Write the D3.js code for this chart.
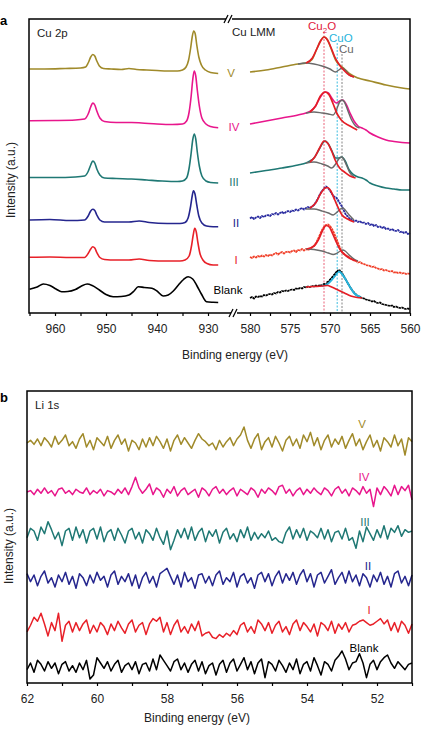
<!DOCTYPE html>
<html><head><meta charset="utf-8">
<script src="https://cdn.jsdelivr.net/npm/d3@7"></script>
<style>body{margin:0;background:#fff}svg{display:block}text{font-family:"Liberation Sans",Arial,sans-serif}</style>
</head><body><svg id="c" width="421" height="742"></svg>
<script>
// ---------- Panel a: Cu 2p (left segment) [E, intensity] ----------
const cu2p_V = [[965,244],[962,244],[958,244.5],[955,245],[954,246],[953.5,250],[953,256],[952.6,258.5],[952.2,257],[951.8,252],[951.3,247],[950.5,244.5],[949,244],[947,243.5],[945.5,244.5],[944,243.5],[942,243],[940,242.5],[938,242],[936,242],[935,243],[934.3,246],[933.8,253],[933.4,265],[933.1,276],[932.8,282],[932.5,279],[932.2,268],[931.8,256],[931.3,248],[930.5,243],[929.5,240.5],[928,239.5]];
const cu2p_IV = [[965,192.3],[960,192.5],[956,193],[954.2,194],[953.5,199],[953,206],[952.6,210],[952.2,208],[951.8,202],[951.2,195],[950.3,191.5],[948,190.5],[945,190.5],[943,190],[940,189],[937,188.5],[935,189],[934.2,192],[933.7,201],[933.3,217],[933,233],[932.7,242],[932.4,237],[932.1,223],[931.7,207],[931.2,195],[930.4,189],[929.5,186.5],[928,185.3]];
const cu2p_III = [[965,135.5],[960,135.5],[956,136],[954.2,137],[953.5,141.5],[953,148],[952.6,152],[952.2,150],[951.8,144],[951.2,138],[950.3,135],[948,134.5],[945,134],[942,133],[939,132],[936,131.5],[935,132],[934.2,135],[933.7,145],[933.3,160],[933,173],[932.7,179],[932.4,174],[932.1,161],[931.7,147],[931.2,137],[930.4,132],[929.5,130.5],[928,130]];
const cu2p_II = [[965,93],[961,93.5],[957,92.5],[954.2,93],[953.5,97],[953,102],[952.6,103.7],[952.2,102.5],[951.8,98],[951.2,93],[950.3,91],[948,91],[945.5,91],[943.5,92],[941.5,90.5],[938,89.5],[935.5,89.5],[934.5,90.5],[933.9,95],[933.4,107],[933.1,117],[932.85,122.3],[932.55,119],[932.2,108],[931.8,97],[931.2,90],[930.3,87],[929,86.3],[928,86.3]];
const cu2p_I = [[965,55.7],[961,56],[957,55.5],[954.2,55.5],[953.5,59.5],[953,64],[952.6,66.3],[952.2,65],[951.8,60.5],[951.2,55.5],[950.3,53.5],[948,53],[945.5,53],[943.5,54],[941.5,52.5],[938,52],[935.5,52],[934.5,53],[933.7,57],[933.2,68],[932.9,78],[932.6,84.7],[932.3,81],[932,71],[931.6,60],[931,53],[930.2,49.5],[929,48],[928,48]];
const cu2p_Blank = [[965,23.7],[963.5,26],[962.3,29],[961,27.5],[959.8,24],[958.7,21.3],[957.5,21.5],[956,23.5],[954.8,27],[953.7,29],[952.7,27.5],[951.3,23],[950,18.5],[948.6,16.3],[947,16.5],[945.5,18],[944.5,22],[943.7,26.3],[942.5,25.5],[941,24.7],[940,22],[938.8,17],[937.8,18],[936.8,22],[935.8,28],[934.8,33.5],[933.9,36.3],[933,34],[932.2,27.5],[931.3,19],[930.3,11.3],[929,10.7],[928,10.5]];

// ---------- Panel a: Cu LMM (right segment) ----------
const lmm_V = [[580,241],[578,243],[576,246],[574,249],[573,250],[572.3,253],[571.7,263],[571.2,272],[570.75,276],[570.3,273],[569.8,263],[569.3,253],[568.8,248],[568.3,245],[567.5,239],[566.5,235],[565,232],[563,228],[561,225],[560,224]];
const lmm_V_red = [[573,250],[572.2,255],[571.6,265],[571.1,273],[570.75,276],[570.4,274],[569.9,266],[569.4,256],[568.9,249],[568.3,243],[567.6,238],[567,236]];
const lmm_V_gray = [[574,249],[573,250],[572,249],[571,247],[570,244],[569.3,241],[568.9,243],[568.5,245],[568.1,243],[567.6,238],[567,236]];
const lmm_IV = [[580,189],[578,192],[576,195],[574,198],[573,200],[572.4,202],[571.8,207],[571.2,216],[570.6,221],[570.2,220],[569.7,214],[569.2,210],[568.8,212],[568.4,213],[568,209],[567.5,200],[567,192],[566.5,187],[566,185],[565.5,183],[565,180],[564,176],[563,173],[562,171.5],[561,170.5],[560,170]];
const lmm_IV_red = [[572.5,201],[571.8,207],[571.2,217],[570.6,221],[570.1,218],[569.6,209],[569.1,199],[568.6,193],[567.5,187],[566.6,183]];
const lmm_IV_gray = [[573,200],[572,201],[571,200],[570.2,199],[569.6,198],[569.2,203],[568.8,211],[568.5,213],[568.2,211],[567.8,203],[567.3,193],[566.8,187],[566.3,185]];
const lmm_III = [[580,140],[578,142.5],[576,145],[574,148],[573,150],[572.5,152],[572,155],[571.4,163],[570.9,170],[570.6,172],[570.2,169],[569.7,161],[569.3,155],[568.9,155],[568.5,156],[568.1,152],[567.6,143],[567,138],[566.5,136],[566,135],[565.5,133],[565,130],[564,127],[563,125],[562,124],[561,123],[560,123]];
const lmm_III_red = [[572.5,151],[571.9,156],[571.3,165],[570.75,172],[570.3,170],[569.8,162],[569.3,152],[568.8,145],[568.2,141],[567.5,137],[566.8,135]];
const lmm_III_gray = [[573,150],[572,151],[571,149],[570.3,147],[569.8,145],[569.3,149],[568.9,154],[568.6,156],[568.3,154],[567.9,147],[567.5,140],[567,136]];
// noisy spectra on a 0.25 eV grid from 580 to 560
const lmm_II = [94.5,96,94,95.5,96.5,95,97,96,97.5,98, 97,99,98.5,100,98.5,100,101,99.5,101,102, 101,102.5,102,103.5,102.5,104,105,103.5,105,106, 105,106.5,108,111,114.5,119,122,124.5,126.5,125, 122.5,119,116.5,115.5,113,109.5,106.5,102,98,96.5, 93.5,94,91.5,92.5,91,92,90,90.5,89,90, 88,89,87,88,86,86.5,85,86,84,84.5, 83,84,82.5,82,83,81,81.5,80,81,79,80];
const lmm_II_red = [[572.5,105],[571.8,110],[571.2,119],[570.6,125],[570.3,125.5],[569.9,122],[569.4,113],[568.9,104],[568.5,98],[567.8,94],[567,91]];
const lmm_II_gray = [[573,104],[572,104],[571,102],[570.2,100],[569.6,98],[569.1,101],[568.7,104],[568.4,105],[568.1,103],[567.6,98],[567,93]];
const lmm_I = [56,55,56.5,55.5,57,56,57.5,56.5,58,57, 58.5,57.5,59,60,58.5,60,61,59.5,61,61.5, 60.5,62,62.5,61,63,62.5,64,62.5,64,63, 64,65.5,67,70,74,78.5,83,86,88,88.5, 87,84,80,75,70,65,61,59,57.5,56.5, 55,54,52.5,52,50.5,51,49.5,49,48,47.5, 47,46,46.5,45,44.5,43.5,44,42.5,43,42, 41.5,42,40.5,41,40,40.5,39.5,40,39,39.5,39];
const lmm_I_red = [[572.9,64],[572,67],[571.4,74],[570.9,83],[570.5,87.5],[570.1,86],[569.6,78],[569.1,69],[568.7,63],[568.1,58],[567.5,54.5],[566.7,52]];
const lmm_I_gray = [[573,64],[572,63.5],[571,62],[570.2,60],[569.6,58.5],[569.1,60],[568.7,62],[568.4,63],[568.1,62],[567.6,58],[567,54],[566.5,52]];
const lmm_Blank = [15,16,14.5,16.5,16,17,16.5,18,17.5,18.5, 19,18.5,20,19.5,21,20.5,22,21.5,22.5,22, 23,23.5,23,24.5,24,25,24.5,26,25.5,26.5, 26,27,26.5,27.5,27,28,27.5,29,28.5,30, 33,35.5,38,40.5,42.5,42,40,36.5,33,29.5, 26,23,20.5,18.5,17,16,15,14.5,13.5,13, 12.5,11.5,12,10.5,10,10.5,9,8.5,8,7.5, 7,7.5,6,6.5,5.5,5,5.5,4.5,4,4.5,3.5];
const lmm_Blank_red = [[573,26],[572,26.5],[571,27],[570.3,27.5],[569.8,26],[569,23],[568.2,20],[567.4,17],[566.6,15.5],[566,15]];
const lmm_Blank_cyan = [[571,27],[570.3,29],[569.8,33],[569.3,38],[568.9,41.5],[568.5,39],[568,33],[567.5,26],[567,20],[566.5,17],[566.2,16]];
const lmm_Blank_fit = [[570.8,28.5],[570.2,32],[569.6,37],[569.1,41.5],[568.8,43],[568.5,41]];
const refLines = [{name:'Cu₂O', e:570.75}, {name:'CuO', e:569.1}, {name:'Cu', e:568.5}];

// ---------- Panel b: Li 1s, 0.1 eV grid from 62 to 51 ----------
const li_V = [0,2,-1,3,-2,4,1,-3,5,-1, 2,6,-2,1,-4,3,7,-3,2,-5, 4,1,-2,5,-4,2,6,-1,3,-6, 2,0,-5,3,-3,4,-2,5,1,-4, 3,-6,2,6,-1,4,0,-4,2,7, 3,1,-2,0,-5,2,-3,1,4,-2, 3,6,12,2,-4,3,7,-5,1,4, -3,5,0,-6,2,5,-2,3,-4,6, 1,8,-2,4,-5,2,6,-3,3,-1, 5,-4,2,7,-2,3,-5,1,6,-3, 2,-6,4,1,-3,6,-2,3,-9,4,1];
const li_IV = [0,1,-2,2,-1,3,-1,1,-3,2, 3,-1,1,-2,2,0,-1,3,-2,1, -1,2,-3,1,0,-2,2,-1,3,-2, 4,11,3,-1,2,6,-2,3,1,-4, 2,-1,4,-3,1,3,-2,0,2,-4, 3,1,-3,2,4,-1,2,-2,1,3, -3,2,0,-2,3,1,-4,2,-1,3, 1,-2,4,5,-1,2,-3,1,3,-2, 2,-1,3,0,-2,3,1,-3,2,4, -1,2,-3,3,1,-2,4,-1,2,-11, 3,-2,4,1,-3,5,-2,4,1,5,-6];
const li_III = [-2,5,3,-4,6,1,10,4,-3,2, -8,3,5,-4,6,-2,4,-6,3,5, -3,6,-5,2,4,-4,5,0,-6,3, 5,-3,2,-6,4,1,-4,5,-2,-7, 3,-11,-4,4,-2,5,-3,6,-4,2, 5,-5,3,-1,4,-6,2,5,-3,1, -5,4,-2,6,-4,2,-3,1,-2,3, -4,-2,-5,-6,2,6,-3,4,-2,5, -4,3,1,-2,5,-3,4,-5,2,3, -3,5,-4,-2,-10,3,-5,6,1,-4, 4,-2,7,-3,5,2,7,-1,4,2,3];
const li_II = [4,-2,3,-5,2,6,-3,1,-6,3, -2,5,-4,2,-7,4,1,-5,3,-3, 5,-1,2,-6,3,6,-4,2,-2,4, -5,3,-7,1,5,-3,2,-6,4,6, 8,2,-4,3,-6,5,-2,1,-7,3, 4,-3,2,-5,3,6,-4,1,-2,5, -6,2,4,-3,1,-7,3,5,-2,4, -5,2,6,-3,4,-1,5,-4,3,7, -2,4,-6,3,5,-3,2,7,-4,1, 5,-3,6,-2,3,-5,4,1,-6,3, -2,5,-4,2,-6,4,6,-3,2,-5,3];
const li_I = [-3,2,8,5,11,3,-6,4,-2,11, -10,2,5,-3,4,-2,3,6,-4,2, -3,4,1,-5,3,-2,5,0,-4,3, 6,-3,2,4,-5,3,7,5,8,-3, 4,-5,2,6,-3,1,-4,3,-2,5, -6,-4,-3,-7,-8,-5,-7,-4,-6,-2, -5,2,4,-3,1,-4,6,3,-2,4, -4,2,5,-3,1,-5,3,6,-2,4, 1,-3,3,-6,4,2,-2,5,-4,3, -1,4,-3,2,3,5,6,4,2,3, 5,7,3,6,-2,4,-3,5,2,-4,3];
const li_Blank = [-2,3,-4,5,2,-3,4,-1,3,-5, 2,4,-3,1,-4,3,-2,5,-9,-6, 7,3,-1,4,-3,2,5,-4,1,3, -2,4,-5,2,3,-3,6,-2,9,5, 1,-3,4,6,-2,3,-4,2,5,-3, 4,-5,1,3,-6,2,5,-4,3,6, -3,2,7,-2,4,-5,3,6,-8,4, 2,-3,5,1,-4,3,-2,6,-5,2, 4,-3,7,1,-6,4,2,-3,5,8, 12,6,-2,3,4,10,3,-8,2,5, -2,4,7,9,3,-1,4,1,-2,2,3];
const liOffsets = [180,143.3,111,78,41.3,12];

const sampleNames = ['V','IV','III','II','I','Blank'];
const sampleColors = ['#a08a2a','#e8168c','#1f7874','#25268e','#e82028','#000000'];
const ticksCuLeft = [965,960,955,950,945,940,935,930];
const ticksCuRight = [580,577.5,575,572.5,570,567.5,565,562.5,560];
const ticksLi = [62,61,60,59,58,57,56,55,54,53,52,51];

// ---------- drawing ----------
const svg = d3.select('#c');
const xL = d3.scaleLinear().domain([965,928]).range([29.5,218.2]);
const xR = d3.scaleLinear().domain([580,560]).range([250,410]);
const yA = d3.scaleLinear().domain([0,294]).range([313,19]);
const xB = d3.scaleLinear().domain([62,51]).range([27,412]);
const yB = d3.scaleLinear().domain([0,219]).range([683,391]);
const red='#e41e26', gray='#6a6a6a', cyan='#27b4dc';

const lineL = d3.line().x(d=>xL(d[0])).y(d=>yA(d[1])).curve(d3.curveMonotoneX);
const lineR = d3.line().x(d=>xR(d[0])).y(d=>yA(d[1])).curve(d3.curveMonotoneX);
const gridR = d3.range(81).map(i=>580-0.25*i);
const gridB = d3.range(111).map(i=>62-0.1*i);
const noisyR = arr => arr.map((v,i)=>[gridR[i],v]);
const lineRn = d3.line().x(d=>xR(d[0])).y(d=>yA(d[1]));
const lineB = d3.line().x(d=>xB(d[0])).y(d=>yB(d[1]));

function path(g, d, gen, color, w, dash){
  const p = g.append('path').attr('d', gen(d)).attr('fill','none').attr('stroke',color)
    .attr('stroke-width',w).attr('stroke-linejoin','round');
  if(dash) p.attr('stroke-dasharray',dash);
  return p;
}

// Panel a
const ga = svg.append('g');
const refColors=[ '#e8506a', cyan, '#777'];
const refTop=[32,43,54];
refLines.forEach((r,i)=>{
  ga.append('line').attr('x1',xR(r.e)).attr('x2',xR(r.e)).attr('y1',refTop[i]).attr('y2',yA(0))
    .attr('stroke',refColors[i]).attr('stroke-width',0.9).attr('stroke-dasharray','2,1.5');
});
const leftSeries=[cu2p_V,cu2p_IV,cu2p_III,cu2p_II,cu2p_I,cu2p_Blank];
leftSeries.forEach((s,i)=>path(ga,s,lineL,sampleColors[i],1.6));
path(ga,lmm_V,lineR,sampleColors[0],1.6);
path(ga,lmm_IV,lineR,sampleColors[1],1.6);
path(ga,lmm_III,lineR,sampleColors[2],1.6);
path(ga,noisyR(lmm_II),lineRn,'#2a2ca0',1.8,'2.5,0.5');
path(ga,noisyR(lmm_I),lineRn,'#f0402a',1.8,'2.5,0.5');
path(ga,noisyR(lmm_Blank),lineRn,'#000',1.8,'2.5,0.5');
[lmm_V_gray,lmm_IV_gray,lmm_III_gray,lmm_II_gray,lmm_I_gray].forEach(s=>path(ga,s,lineR,gray,1.4));
path(ga,lmm_Blank_cyan,lineR,cyan,2);
path(ga,lmm_Blank_fit,lineR,'#000',1.2,'2,1.5');
[lmm_V_red,lmm_IV_red,lmm_III_red,lmm_II_red,lmm_I_red,lmm_Blank_red].forEach(s=>path(ga,s,lineR,red,1.7));

ga.append('rect').attr('x',29).attr('y',19).attr('width',381).attr('height',294)
  .attr('fill','none').attr('stroke','#000').attr('stroke-width',1.5);
const axL = d3.axisBottom(xL).tickValues(ticksCuLeft).tickSize(3).tickPadding(8.5)
  .tickFormat(d=>d%10===0?d:'');
const axR = d3.axisBottom(xR).tickValues(ticksCuRight).tickSize(3).tickPadding(8.5)
  .tickFormat(d=>d%5===0?d:'');
[axL,axR].forEach(ax=>{
  const g=ga.append('g').attr('transform','translate(0,313)').call(ax);
  g.select('.domain').remove();
  g.selectAll('line').attr('stroke','#000').attr('stroke-width',1.2);
  g.selectAll('text').attr('font-size',12).attr('fill','#222').style('font-family','"Liberation Sans",Arial,sans-serif');
});
function brk(x,y){
  ga.append('rect').attr('x',x-3).attr('y',y-1.5).attr('width',6).attr('height',3).attr('fill','#fff');
  ga.append('line').attr('x1',x-5).attr('y1',y+4).attr('x2',x-1).attr('y2',y-4).attr('stroke','#000').attr('stroke-width',1.2);
  ga.append('line').attr('x1',x-1).attr('y1',y+4).attr('x2',x+3).attr('y2',y-4).attr('stroke','#000').attr('stroke-width',1.2);
}
brk(229,19); brk(234,313);

const T=(g,x,y,t,o={})=>g.append('text').attr('x',x).attr('y',y).text(t)
  .attr('font-size',o.size||12).attr('fill',o.color||'#222').attr('text-anchor',o.anchor||'start')
  .attr('font-weight',o.weight||'normal');
T(ga,0,25,'a',{size:13,weight:'bold',color:'#000'});
T(ga,37,37,'Cu 2p',{size:11.5});
T(ga,232,36,'Cu LMM',{size:11.5});
const t2=ga.append('text').attr('x',308).attr('y',30).attr('font-size',11.5).attr('fill','#e0203c');
t2.append('tspan').text('Cu');
t2.append('tspan').text('2').attr('font-size',8).attr('dy',3);
t2.append('tspan').text('O').attr('dy',-3);
T(ga,329,42,'CuO',{size:11.5,color:cyan});
T(ga,339,53,'Cu',{size:11.5,color:'#666'});
const labA=[[231,77],[234,131],[234,186],[236,227],[236,264],[228,294]];
sampleNames.forEach((n,i)=>T(ga,labA[i][0],labA[i][1],n,{size:11.5,color:sampleColors[i],anchor:'middle'}));
T(ga,235,359,'Binding energy (eV)',{anchor:'middle'});
ga.append('text').attr('transform','translate(15,180) rotate(-90)').attr('text-anchor','middle')
  .attr('font-size',12).attr('fill','#222').text('Intensity (a.u.)');

// Panel b
const gb = svg.append('g');
const liSeries=[li_V,li_IV,li_III,li_II,li_I,li_Blank];
liSeries.forEach((s,k)=>{
  const d=s.map((v,i)=>[gridB[i], liOffsets[k]+v]);
  path(gb,d,lineB,sampleColors[k],1.5);
});
gb.append('rect').attr('x',27).attr('y',391).attr('width',385).attr('height',292)
  .attr('fill','none').attr('stroke','#000').attr('stroke-width',1.5);
const axB=d3.axisBottom(xB).tickValues(ticksLi).tickSize(3).tickPadding(8.5)
  .tickFormat(d=>d%2===0?d:'');
const gax=gb.append('g').attr('transform','translate(0,683)').call(axB);
gax.select('.domain').remove();
gax.selectAll('line').attr('stroke','#000').attr('stroke-width',1.2);
gax.selectAll('text').attr('font-size',12).attr('fill','#222').style('font-family','"Liberation Sans",Arial,sans-serif');
T(gb,0,402,'b',{size:13,weight:'bold',color:'#000'});
T(gb,35,409,'Li 1s',{size:11.5});
const labB=[[362,428],[364,481],[365,526],[368,570],[369,614],[364,652]];
sampleNames.forEach((n,i)=>T(gb,labB[i][0],labB[i][1],n,{size:11.5,color:sampleColors[i],anchor:'middle'}));
T(gb,197,722,'Binding energy (eV)',{anchor:'middle'});
gb.append('text').attr('transform','translate(13,546) rotate(-90)').attr('text-anchor','middle')
  .attr('font-size',12).attr('fill','#222').text('Intensity (a.u.)');
</script></body></html>
